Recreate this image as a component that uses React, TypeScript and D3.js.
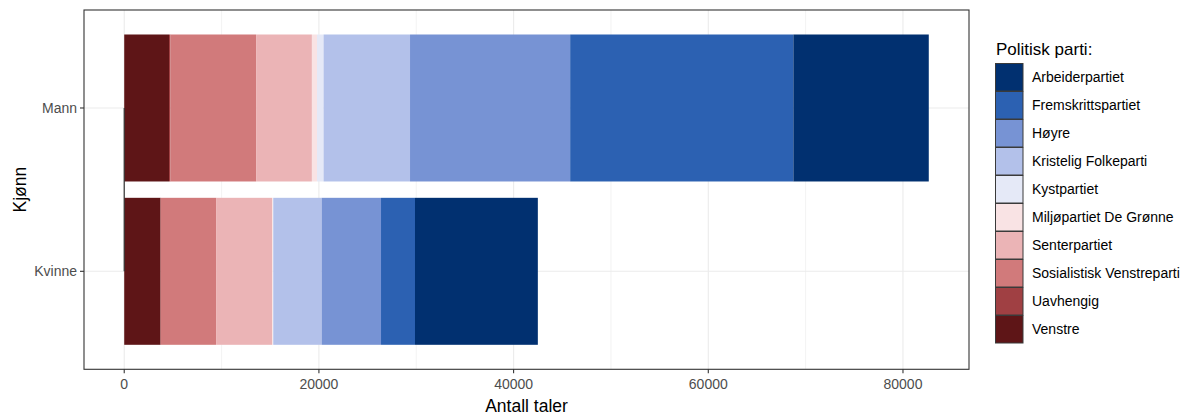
import React from "react";
import * as d3 from "d3";

const parties = [
  "Arbeiderpartiet",
  "Fremskrittspartiet",
  "Høyre",
  "Kristelig Folkeparti",
  "Kystpartiet",
  "Miljøpartiet De Grønne",
  "Senterpartiet",
  "Sosialistisk Venstreparti",
  "Uavhengig",
  "Venstre",
];
const partyColors = [
  "#013070",
  "#2c61b2",
  "#7793d4",
  "#b3c1ea",
  "#e5e9f7",
  "#f9e3e4",
  "#ebb4b6",
  "#d17a7b",
  "#a04043",
  "#5e1517",
];
const genders = ["Mann", "Kvinne"];
const mannValues = [13910, 22930, 16450, 8880, 680, 520, 5730, 8800, 150, 4600];
const kvinneValues = [12620, 3490, 6100, 4970, 30, 80, 5760, 5670, 50, 3720];
const xTicks = [0, 20000, 40000, 60000, 80000];
const xMinor = [10000, 30000, 50000, 70000];

export default function App() {
  const W = 1202, H = 416;
  const pl = 84, pr = 969, pt = 10, pb = 369.3;
  const seriesByGender = [mannValues, kvinneValues];
  const totals = seriesByGender.map((v) => d3.sum(v));
  const maxT = d3.max(totals) as number;
  const x = d3.scaleLinear().domain([-maxT * 0.05, maxT * 1.05]).range([pl, pr]);
  const yUnit = (pb - pt) / 2.2;
  const yc = (i: number) => pt + (0.6 + i) * yUnit;
  const barH = 0.9 * yUnit;

  // stacking: last legend level at left
  const segs: any[] = [];
  seriesByGender.forEach((vals, gi) => {
    let acc = 0;
    for (let k = parties.length - 1; k >= 0; k--) {
      const v = vals[k];
      segs.push({ gi, k, x0: acc, x1: acc + v });
      acc += v;
    }
  });

  const font = "'Liberation Sans', Arial, sans-serif";
  return (
    <svg width={W} height={H} style={{ position: "absolute", left: 0, top: 0 }} fontFamily={font}>
      <rect width={W} height={H} fill="white" />
      {xMinor.map((t) => (
        <line key={"m" + t} x1={x(t)} x2={x(t)} y1={pt} y2={pb} stroke="#ebebeb" strokeWidth={0.6} />
      ))}
      {xTicks.map((t) => (
        <line key={"g" + t} x1={x(t)} x2={x(t)} y1={pt} y2={pb} stroke="#ebebeb" strokeWidth={1.1} />
      ))}
      {genders.map((g, i) => (
        <line key={"h" + g} x1={pl} x2={pr} y1={yc(i)} y2={yc(i)} stroke="#ebebeb" strokeWidth={1.1} />
      ))}
      {segs.map((s, i) => (
        <rect
          key={i}
          x={x(s.x0)}
          width={Math.max(0, x(s.x1) - x(s.x0))}
          y={yc(s.gi) - barH / 2}
          height={barH}
          fill={partyColors[s.k]}
        />
      ))}
      <line x1={x(0)} x2={x(0)} y1={yc(0)} y2={yc(1)} stroke="#333" strokeWidth={1.2} />
      <rect x={pl} y={pt} width={pr - pl} height={pb - pt} fill="none" stroke="#333333" strokeWidth={1.1} />
      {xTicks.map((t) => (
        <g key={"t" + t}>
          <line x1={x(t)} x2={x(t)} y1={pb} y2={pb + 4} stroke="#333" strokeWidth={1.1} />
          <text x={x(t)} y={pb + 20} textAnchor="middle" fontSize={14} fill="#4d4d4d">
            {t}
          </text>
        </g>
      ))}
      {genders.map((g, i) => (
        <g key={"y" + g}>
          <line x1={pl - 4} x2={pl} y1={yc(i)} y2={yc(i)} stroke="#333" strokeWidth={1.1} />
          <text x={pl - 7} y={yc(i)} dy="0.35em" textAnchor="end" fontSize={14} fill="#4d4d4d">
            {g}
          </text>
        </g>
      ))}
      <text x={(pl + pr) / 2} y={412} textAnchor="middle" fontSize={17.5} fill="black">
        Antall taler
      </text>
      <text transform={`translate(26,${(pt + pb) / 2}) rotate(-90)`} textAnchor="middle" fontSize={17.5} fill="black">
        Kjønn
      </text>
      <text x={996} y={55} fontSize={17} fill="black">
        Politisk parti:
      </text>
      {parties.map((p, i) => (
        <g key={"l" + p}>
          <rect x={995.5} y={63.5 + i * 28} width={27.5} height={27.5} fill={partyColors[i]} stroke="#3a3a3a" strokeWidth={1} />
          <text x={1032} y={63.5 + i * 28 + 14} dy="0.35em" fontSize={14} fill="black">
            {p}
          </text>
        </g>
      ))}
    </svg>
  );
}
